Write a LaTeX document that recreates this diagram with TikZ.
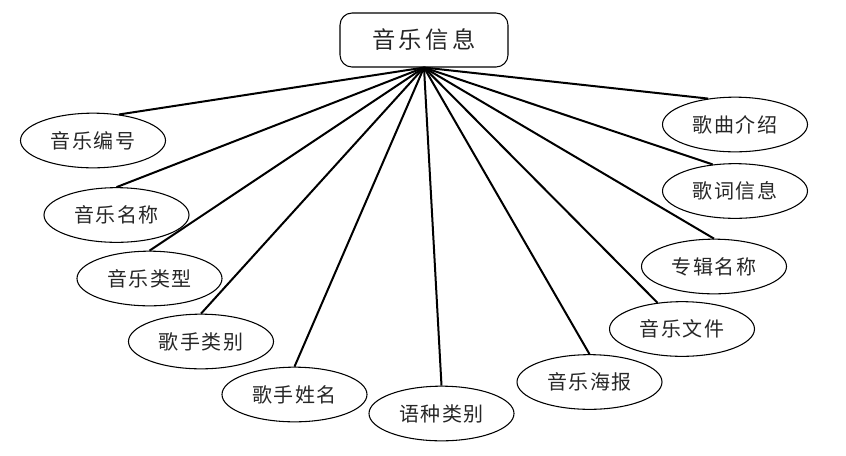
\documentclass[tikz,border=0pt]{standalone}
\usepackage{fontspec}
\newfontfamily\cjkA[LetterSpace=8]{Noto Sans CJK SC}
\newfontfamily\cjkB[LetterSpace=15]{Noto Sans CJK SC}
\usetikzlibrary{shapes.geometric}
\begin{document}
\begin{tikzpicture}[x=0.75pt,y=-0.75pt,
  attr/.style={ellipse, draw, line width=0.8pt, minimum width=108.75pt, minimum height=41pt, inner sep=0pt, text=black!85, font=\cjkA\fontsize{15}{17}\selectfont},
  rootbox/.style={draw, line width=0.8pt, rounded corners=9pt, minimum width=126pt, minimum height=40.5pt, inner sep=0pt, text=black!85, font=\cjkB\fontsize{17.5}{19}\selectfont},
  link/.style={line width=1.5pt}]
\useasboundingbox (0,0) rectangle (846,455);
\node[rootbox] (root) at (424,40) {音乐信息};
\node[attr] (a1) at (93,140.5) {音乐编号};
\node[attr] (a2) at (116.5,215) {音乐名称};
\node[attr] (a3) at (149.5,278.5) {音乐类型};
\node[attr] (a4) at (201,341.5) {歌手类别};
\node[attr] (a5) at (294.5,394.5) {歌手姓名};
\node[attr] (a6) at (441.5,413.5) {语种类别};
\node[attr] (a7) at (589.5,382) {音乐海报};
\node[attr] (a8) at (682,329) {音乐文件};
\node[attr] (a9) at (714,266.5) {专辑名称};
\node[attr] (a10) at (735,191) {歌词信息};
\node[attr] (a11) at (735,124.5) {歌曲介绍};
\draw[link] (root.south) -- (a1.45);
\draw[link] (root.south) -- (a2.north);
\draw[link] (root.south) -- (a3.north);
\draw[link] (root.south) -- (a4.north);
\draw[link] (root.south) -- (a5.north);
\draw[link] (root.south) -- (a6.north);
\draw[link] (root.south) -- (a7.north);
\draw[link] (root.south) -- (a8.133);
\draw[link] (root.south) -- (a9.north);
\draw[link] (root.south) -- (a10.130);
\draw[link] (root.south) -- (a11.136);
\end{tikzpicture}
\end{document}
